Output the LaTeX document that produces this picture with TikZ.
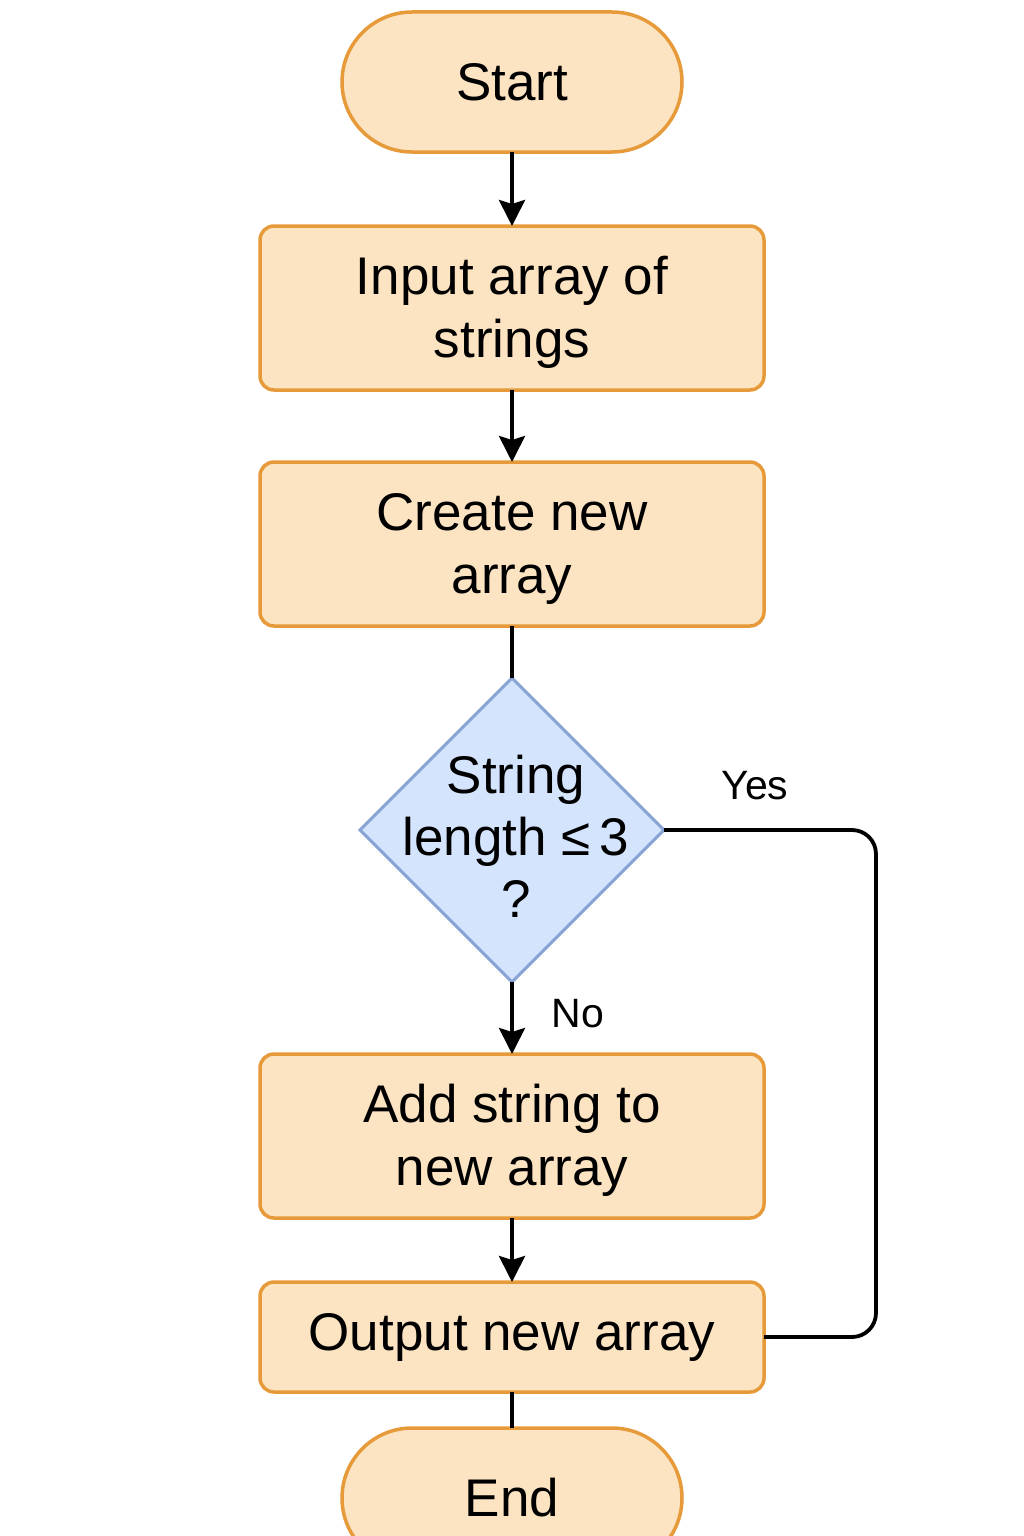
\documentclass[tikz,border=0pt]{standalone}
\usepackage{fontspec}
\setmainfont{Liberation Sans}
\usetikzlibrary{shapes.geometric,arrows.meta}
\definecolor{boxfill}{HTML}{FCE4C2}
\definecolor{boxline}{HTML}{E69A3A}
\definecolor{decfill}{HTML}{D4E4FC}
\definecolor{decline}{HTML}{89A3D4}
\tikzset{
  box/.style={draw=boxline, fill=boxfill, line width=3.5pt, rounded corners=14pt,
    minimum width=504pt, inner sep=0pt, outer sep=0pt, align=center,
    font=\fontsize{53}{63}\selectfont},
  term/.style={draw=boxline, fill=boxfill, line width=3.5pt, rounded corners=70pt,
    minimum width=340pt, minimum height=140pt, inner sep=0pt, outer sep=0pt,
    font=\fontsize{53}{63}\selectfont},
  dec/.style={draw=decline, fill=decfill, line width=3pt, shape=diamond,
    minimum width=304pt, minimum height=304pt, inner sep=0pt, outer sep=0pt},
  lab/.style={font=\fontsize{41}{48}\selectfont, inner sep=0pt},
  conn/.style={line width=3.8pt, black},
  arr/.style={conn, -{Stealth[length=26pt,width=26pt,inset=4pt]}}
}
\begin{document}
\begin{tikzpicture}[x=1pt,y=1pt]
\useasboundingbox (0,0) rectangle (1024,-1536);
\node[term] (start) at (512,-82) {Start};
\node[box, minimum height=164pt] (input) at (512,-308) {\rule{0pt}{46pt}Input array of\\strings};
\node[box, minimum height=164pt] (create) at (512,-544) {\rule{0pt}{46pt}Create new\\array};
\node[dec] (dec) at (512,-830) {};
\node[align=center, font=\fontsize{53}{62}\selectfont, inner sep=0pt] (dectext) at (516,-836) {String\\length ≤\,3\\?};
\node[box, minimum height=164pt] (add) at (512,-1136) {\rule{0pt}{46pt}Add string to\\new array};
\node[box, minimum height=110pt] (out) at (512,-1337) {Output new array};
\node[term] (end) at (512,-1498) {End};
\node[lab] (yes) at (755,-786) {Yes};
\node[lab] (no) at (578,-1014) {No};
\coordinate (yc) at (876,-1337);
\draw[arr] (start.south) -- (input.north);
\draw[arr] (input.south) -- (create.north);
\draw[conn] (create.south) -- (dec.north);
\draw[arr] (dec.south) -- (add.north);
\draw[arr] (add.south) -- (out.north);
\draw[conn] (out.south) -- (end.north);
\draw[conn, rounded corners=24pt] (dec.east) -| (yc) -- (out.east);
\end{tikzpicture}
\end{document}
